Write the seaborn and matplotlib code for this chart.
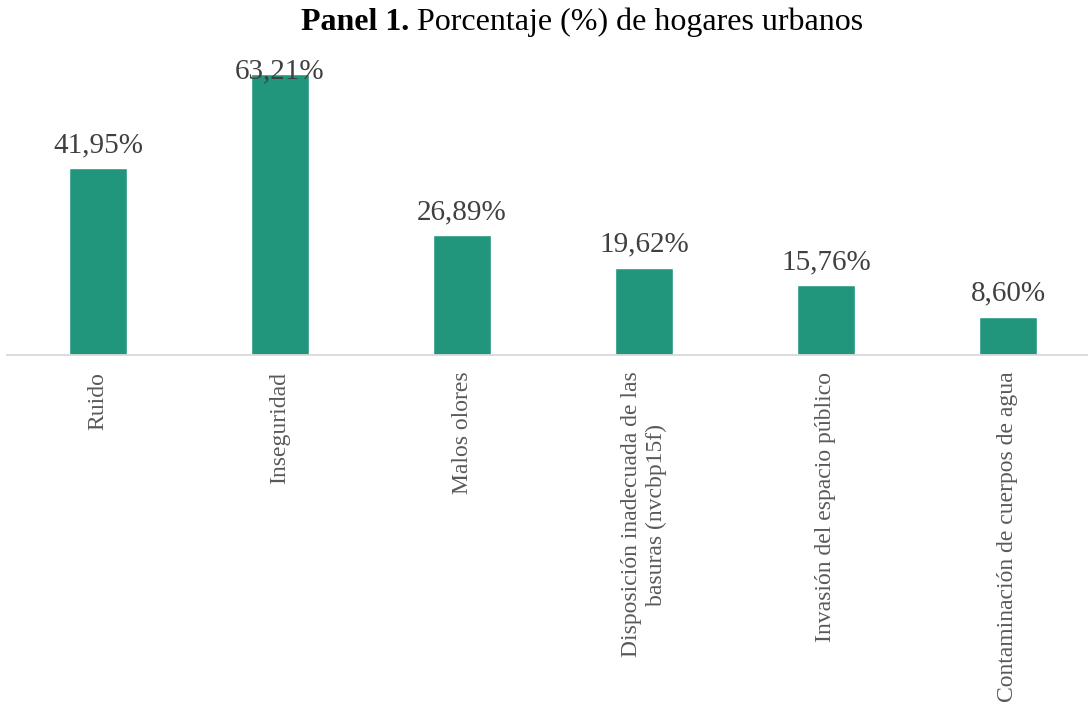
import matplotlib
matplotlib.use("Agg")
import matplotlib.pyplot as plt
import seaborn as sns
import pandas as pd

categories = ["Ruido", "Inseguridad", "Malos olores",
              "Disposición inadecuada de las\nbasuras (nvcbp15f)",
              "Invasión del espacio público", "Contaminación de cuerpos de agua"]
values = [41.95, 63.21, 26.89, 19.62, 15.76, 8.60]
value_labels = ["41,95%", "63,21%", "26,89%", "19,62%", "15,76%", "8,60%"]

sns.set_theme(style="white")
plt.rcParams['font.family'] = ['Liberation Serif', 'DejaVu Serif']

df = pd.DataFrame({"cat": categories, "val": values})
fig = plt.figure(figsize=(10.88, 7.09), dpi=100)
ax = fig.add_axes([7 / 1088, 0.4993, 1092 / 1088, 0.4203])
sns.barplot(data=df, x="cat", y="val", color="#21967D", saturation=1, width=0.32, ax=ax)
ymax = 67.0
ax.set_ylim(0, ymax)
ax.set_xlim(-0.5, 5.5)
for s in ["top", "right", "left"]:
    ax.spines[s].set_visible(False)
ax.spines["bottom"].set_color("#d9d9d9")
ax.spines["bottom"].set_linewidth(1.3)
ax.set_yticks([])
ax.set_xlabel("")
ax.set_ylabel("")
ax.tick_params(axis="x", length=0, pad=12)
ax.set_xticks(range(len(categories)))
ax.set_xticklabels(categories, rotation=90, fontsize=17, color="#595959",
                   ha="center", va="top", multialignment="center", linespacing=1.25)
for i, (v, lab) in enumerate(zip(values, value_labels)):
    y = min(v + 3.6, ymax - 4.7)
    ax.text(i, y, lab, ha="center", va="baseline", fontsize=21, color="#404040")

# title with bold part
t1 = fig.text(0, 0.968, "Panel 1.", fontsize=23, fontweight="bold", ha="left", va="center", color="black")
t2 = fig.text(0, 0.968, " Porcentaje (%) de hogares urbanos", fontsize=23, ha="left", va="center", color="black")
fig.canvas.draw()
r = fig.canvas.get_renderer()
w1 = t1.get_window_extent(r).width
w2 = t2.get_window_extent(r).width
W = fig.bbox.width
cx = 582
start = cx - (w1 + w2) / 2
t1.set_x(start / W)
t2.set_x((start + w1) / W)

fig.savefig("out.png", dpi=100)
